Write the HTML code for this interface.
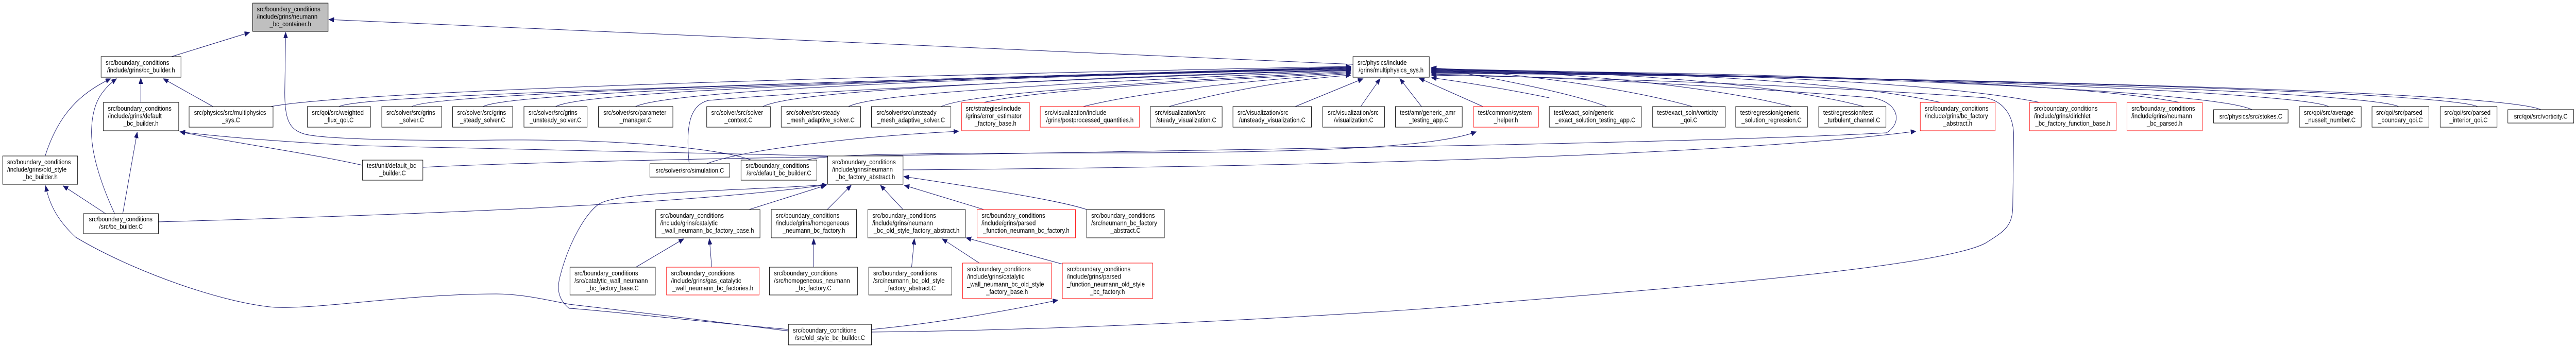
<!DOCTYPE html>
<html><head><meta charset="utf-8"><style>
html,body{margin:0;padding:0;background:#fff;width:100vw;height:100vh;overflow:hidden}
svg{display:block;width:100vw;height:100vh}
text{font-family:"Liberation Sans",Arial,sans-serif;font-size:13px;fill:#000}
.b{fill:#fff;stroke:#000;stroke-width:1}
.r{fill:#fff;stroke:#ff0000;stroke-width:1}
.g{fill:#bfbfbf;stroke:#000;stroke-width:1}
.e{fill:none;stroke:#191970;stroke-width:1}
</style></head><body>
<svg viewBox="0 0 5708 676" preserveAspectRatio="none" xmlns="http://www.w3.org/2000/svg">
<defs><marker id="a" markerUnits="userSpaceOnUse" markerWidth="12" markerHeight="10" refX="11" refY="4.5" orient="auto"><path d="M0,0 L11,4.5 L0,9 z" fill="#191970" stroke="#191970"/></marker></defs>
<g marker-end="url(#a)">
<path class="e" d="M380,110 L553,63"/>
<path class="e" d="M2998,125 L729,38"/>
<path class="e" d="M1665,311 C1600,290 1400,270 1100,272 C900,274 700,270 670,259 C640,250 631,230 631,180 L633,63"/>
<path class="e" d="M312,199 L312,152"/>
<path class="e" d="M472,207 L362,153"/>
<path class="e" d="M100,303 C130,220 180,180 245,153"/>
<path class="e" d="M254,415 C230,370 200,300 203,250 C205,200 225,175 258,153"/>
<path class="e" d="M272,415 L304,257"/>
<path class="e" d="M803,321 C700,300 500,275 399,256"/>
<path class="e" d="M1836,303 C1500,295 1000,290 800,283 C600,275 450,262 399,256"/>
<path class="e" d="M234,415 L140,361"/>
<path class="e" d="M1747,643 C1500,615 1300,595 1261,591 C1200,580 1150,571 1100,571 C900,571 720,600 610,597 C500,590 300,530 168,461 C130,430 110,400 101,361"/>
<path class="e" d="M600,207 C700,190 1200,160 2993,129"/>
<path class="e" d="M751,207 C790,190 1200,175 2993,130"/>
<path class="e" d="M912,207 C950,190 1300,170 2993,131"/>
<path class="e" d="M1070,207 C1110,190 1400,168 2993,132"/>
<path class="e" d="M1231,207 C1270,190 1500,165 2993,133"/>
<path class="e" d="M1408,207 C1450,190 1700,160 2993,134"/>
<path class="e" d="M1690,207 C1730,190 1900,165 2993,135"/>
<path class="e" d="M1880,207 C1920,190 2100,170 2993,137"/>
<path class="e" d="M2085,207 C2130,190 2300,170 2993,139"/>
<path class="e" d="M2180,199 C2300,175 2600,160 2993,141"/>
<path class="e" d="M2400,207 C2500,185 2700,160 2993,143"/>
<path class="e" d="M2590,207 C2700,180 2850,155 2993,146"/>
<path class="e" d="M1527,318 C1520,250 1525,205 1570,195 C1900,170 2500,150 2993,136"/>
<path class="e" d="M2870,207 L3020,153"/>
<path class="e" d="M3015,207 L3058,153"/>
<path class="e" d="M3150,207 L3102,153"/>
<path class="e" d="M3286,207 L3145,152"/>
<path class="e" d="M3433,190 C3350,175 3250,160 3172,151"/>
<path class="e" d="M3560,207 C3480,180 3300,150 3172,131"/>
<path class="e" d="M3750,207 C3620,175 3400,145 3172,132"/>
<path class="e" d="M3970,207 C3800,170 3500,140 3172,133"/>
<path class="e" d="M4130,207 C3950,165 3600,138 3172,134"/>
<path class="e" d="M4300,199 C4100,160 3700,138 3172,135"/>
<path class="e" d="M4520,199 C4300,160 3800,140 3172,136"/>
<path class="e" d="M4830,199 C4600,160 3900,140 3172,137"/>
<path class="e" d="M4990,213 C4900,175 4000,142 3172,138"/>
<path class="e" d="M5160,207 C5100,180 4200,145 3172,139"/>
<path class="e" d="M5315,207 C5250,180 4300,147 3172,140"/>
<path class="e" d="M5490,207 C5420,180 4400,150 3172,141"/>
<path class="e" d="M5630,213 C5550,180 4500,152 3172,142"/>
<path class="e" d="M937,325 C1500,300 3500,290 4180,258 C4215,240 4210,200 4150,190 C3800,165 3400,148 3172,144"/>
<path class="e" d="M1931,645 C2500,640 3200,600 3300,589 C3700,560 4300,520 4400,472 C4440,450 4460,440 4460,400 L4462,260 C4460,215 4430,195 4400,190 C4000,165 3500,150 3172,146"/>
<path class="e" d="M1566,318 C1650,290 1900,265 2124,255"/>
<path class="e" d="M1787,311 C1830,300 2000,297 2500,297 C3000,296 3200,280 3271,256"/>
<path class="e" d="M2001,330 C2800,325 3800,305 4245,255"/>
<path class="e" d="M351,431 C800,420 1500,400 1832,359"/>
<path class="e" d="M1747,640 C1500,620 1300,600 1261,599 C1235,580 1235,560 1240,540 C1260,470 1300,410 1330,395 C1380,372 1600,372 1832,359"/>
<path class="e" d="M1660,407 L1830,360"/>
<path class="e" d="M1833,407 L1886,360"/>
<path class="e" d="M2001,407 L1951,360"/>
<path class="e" d="M2180,407 L2004,360"/>
<path class="e" d="M2408,407 C2350,390 2200,369 2003,343"/>
<path class="e" d="M1409,519 L1515,464"/>
<path class="e" d="M1577,519 L1572,464"/>
<path class="e" d="M1803,519 L1803,464"/>
<path class="e" d="M2020,519 L2026,464"/>
<path class="e" d="M2170,511 L2088,464"/>
<path class="e" d="M2354,513 L2141,462"/>
<path class="e" d="M1931,640 C2050,630 2200,610 2344,583"/>
</g>

<rect class="g" x="560" y="6" width="167" height="55"/><text x="569" y="22">src/boundary_conditions</text><text x="569" y="36.5">/include/grins/neumann</text><text x="643.5" y="51" text-anchor="middle">_bc_container.h</text>
<rect class="b" x="224" y="110" width="177" height="40"/><text x="234" y="126">src/boundary_conditions</text><text x="312.5" y="140.5" text-anchor="middle">/include/grins/bc_builder.h</text>
<rect class="b" x="229" y="199" width="167" height="55"/><text x="239" y="215">src/boundary_conditions</text><text x="239" y="229.5">/include/grins/default</text><text x="312.5" y="244" text-anchor="middle">_bc_builder.h</text>
<rect class="b" x="419" y="207" width="186" height="40"/><text x="430" y="223">src/physics/src/multiphysics</text><text x="512" y="237.5" text-anchor="middle">_sys.C</text>
<rect class="b" x="681" y="207" width="140" height="40"/><text x="691" y="223">src/qoi/src/weighted</text><text x="751" y="237.5" text-anchor="middle">_flux_qoi.C</text>
<rect class="b" x="846" y="207" width="133" height="40"/><text x="856" y="223">src/solver/src/grins</text><text x="912.5" y="237.5" text-anchor="middle">_solver.C</text>
<rect class="b" x="1003" y="207" width="133" height="40"/><text x="1013" y="223">src/solver/src/grins</text><text x="1069.5" y="237.5" text-anchor="middle">_steady_solver.C</text>
<rect class="b" x="1161" y="207" width="140" height="40"/><text x="1171" y="223">src/solver/src/grins</text><text x="1231" y="237.5" text-anchor="middle">_unsteady_solver.C</text>
<rect class="b" x="1326" y="207" width="165" height="40"/><text x="1337" y="223">src/solver/src/parameter</text><text x="1408.5" y="237.5" text-anchor="middle">_manager.C</text>
<rect class="b" x="1566" y="207" width="141" height="40"/><text x="1576" y="223">src/solver/src/solver</text><text x="1636.5" y="237.5" text-anchor="middle">_context.C</text>
<rect class="b" x="1731" y="207" width="176" height="40"/><text x="1742" y="223">src/solver/src/steady</text><text x="1819" y="237.5" text-anchor="middle">_mesh_adaptive_solver.C</text>
<rect class="b" x="1931" y="207" width="176" height="40"/><text x="1942" y="223">src/solver/src/unsteady</text><text x="2019" y="237.5" text-anchor="middle">_mesh_adaptive_solver.C</text>
<rect class="r" x="2131" y="199" width="150" height="55"/><text x="2140" y="215">src/strategies/include</text><text x="2140" y="229.5">/grins/error_estimator</text><text x="2206" y="244" text-anchor="middle">_factory_base.h</text>
<rect class="r" x="2305" y="207" width="220" height="40"/><text x="2315" y="223">src/visualization/include</text><text x="2415" y="237.5" text-anchor="middle">/grins/postprocessed_quantities.h</text>
<rect class="b" x="2549" y="207" width="159" height="40"/><text x="2559" y="223">src/visualization/src</text><text x="2628.5" y="237.5" text-anchor="middle">/steady_visualization.C</text>
<rect class="b" x="2732" y="207" width="174" height="40"/><text x="2742" y="223">src/visualization/src</text><text x="2819" y="237.5" text-anchor="middle">/unsteady_visualization.C</text>
<rect class="b" x="2931" y="207" width="137" height="40"/><text x="2942" y="223">src/visualization/src</text><text x="2999.5" y="237.5" text-anchor="middle">/visualization.C</text>
<rect class="b" x="3092" y="207" width="148" height="40"/><text x="3102" y="223">test/amr/generic_amr</text><text x="3166" y="237.5" text-anchor="middle">_testing_app.C</text>
<rect class="r" x="3265" y="207" width="144" height="40"/><text x="3275" y="223">test/common/system</text><text x="3337" y="237.5" text-anchor="middle">_helper.h</text>
<rect class="b" x="3433" y="207" width="204" height="40"/><text x="3443" y="223">test/exact_soln/generic</text><text x="3535" y="237.5" text-anchor="middle">_exact_solution_testing_app.C</text>
<rect class="b" x="3662" y="207" width="161" height="40"/><text x="3672" y="223">test/exact_soln/vorticity</text><text x="3742.5" y="237.5" text-anchor="middle">_qoi.C</text>
<rect class="b" x="3846" y="207" width="159" height="40"/><text x="3856" y="223">test/regression/generic</text><text x="3925.5" y="237.5" text-anchor="middle">_solution_regression.C</text>
<rect class="b" x="4030" y="207" width="149" height="40"/><text x="4040" y="223">test/regression/test</text><text x="4104.5" y="237.5" text-anchor="middle">_turbulent_channel.C</text>
<rect class="r" x="4255" y="199" width="166" height="55"/><text x="4265" y="215">src/boundary_conditions</text><text x="4265" y="229.5">/include/grins/bc_factory</text><text x="4338" y="244" text-anchor="middle">_abstract.h</text>
<rect class="r" x="4497" y="199" width="192" height="55"/><text x="4507" y="215">src/boundary_conditions</text><text x="4507" y="229.5">/include/grins/dirichlet</text><text x="4593" y="244" text-anchor="middle">_bc_factory_function_base.h</text>
<rect class="r" x="4713" y="199" width="167" height="55"/><text x="4723" y="215">src/boundary_conditions</text><text x="4723" y="229.5">/include/grins/neumann</text><text x="4796.5" y="244" text-anchor="middle">_bc_parsed.h</text>
<rect class="b" x="4905" y="213" width="165" height="26"/><text x="4987.5" y="230.5" text-anchor="middle">src/physics/src/stokes.C</text>
<rect class="b" x="5095" y="207" width="137" height="40"/><text x="5105" y="223">src/qoi/src/average</text><text x="5163.5" y="237.5" text-anchor="middle">_nusselt_number.C</text>
<rect class="b" x="5256" y="207" width="126" height="40"/><text x="5265" y="223">src/qoi/src/parsed</text><text x="5319" y="237.5" text-anchor="middle">_boundary_qoi.C</text>
<rect class="b" x="5407" y="207" width="126" height="40"/><text x="5416" y="223">src/qoi/src/parsed</text><text x="5470" y="237.5" text-anchor="middle">_interior_qoi.C</text>
<rect class="b" x="5557" y="213" width="146" height="26"/><text x="5630" y="230.5" text-anchor="middle">src/qoi/src/vorticity.C</text>
<rect class="b" x="2998" y="110" width="169" height="40"/><text x="3008" y="126">src/physics/include</text><text x="3082.5" y="140.5" text-anchor="middle">/grins/multiphysics_sys.h</text>
<rect class="b" x="6" y="303" width="166" height="55"/><text x="16" y="319">src/boundary_conditions</text><text x="16" y="333.5">/include/grins/old_style</text><text x="89" y="348" text-anchor="middle">_bc_builder.h</text>
<rect class="b" x="803" y="311" width="134" height="39"/><text x="813" y="326">test/unit/default_bc</text><text x="870" y="340.5" text-anchor="middle">_builder.C</text>
<rect class="b" x="1440" y="318" width="177" height="26"/><text x="1528.5" y="335.5" text-anchor="middle">src/solver/src/simulation.C</text>
<rect class="b" x="1642" y="311" width="168" height="39"/><text x="1652" y="326">src/boundary_conditions</text><text x="1726" y="340.5" text-anchor="middle">/src/default_bc_builder.C</text>
<rect class="b" x="1834" y="303" width="167" height="55"/><text x="1844" y="319">src/boundary_conditions</text><text x="1844" y="333.5">/include/grins/neumann</text><text x="1917.5" y="348" text-anchor="middle">_bc_factory_abstract.h</text>
<rect class="b" x="185" y="415" width="166" height="39"/><text x="197" y="430">src/boundary_conditions</text><text x="268" y="444.5" text-anchor="middle">/src/bc_builder.C</text>
<rect class="b" x="1453" y="407" width="231" height="55"/><text x="1463" y="423">src/boundary_conditions</text><text x="1463" y="437.5">/include/grins/catalytic</text><text x="1568.5" y="452" text-anchor="middle">_wall_neumann_bc_factory_base.h</text>
<rect class="b" x="1709" y="407" width="189" height="55"/><text x="1719" y="423">src/boundary_conditions</text><text x="1719" y="437.5">/include/grins/homogeneous</text><text x="1803.5" y="452" text-anchor="middle">_neumann_bc_factory.h</text>
<rect class="b" x="1923" y="407" width="216" height="55"/><text x="1933" y="423">src/boundary_conditions</text><text x="1933" y="437.5">/include/grins/neumann</text><text x="2031" y="452" text-anchor="middle">_bc_old_style_factory_abstract.h</text>
<rect class="r" x="2165" y="407" width="218" height="55"/><text x="2175" y="423">src/boundary_conditions</text><text x="2175" y="437.5">/include/grins/parsed</text><text x="2274" y="452" text-anchor="middle">_function_neumann_bc_factory.h</text>
<rect class="b" x="2408" y="407" width="172" height="55"/><text x="2418" y="423">src/boundary_conditions</text><text x="2418" y="437.5">/src/neumann_bc_factory</text><text x="2494" y="452" text-anchor="middle">_abstract.C</text>
<rect class="b" x="1263" y="519" width="189" height="54"/><text x="1273" y="535">src/boundary_conditions</text><text x="1273" y="549.5">/src/catalytic_wall_neumann</text><text x="1357.5" y="564" text-anchor="middle">_bc_factory_base.C</text>
<rect class="r" x="1477" y="519" width="205" height="54"/><text x="1487" y="535">src/boundary_conditions</text><text x="1487" y="549.5">/include/grins/gas_catalytic</text><text x="1579.5" y="564" text-anchor="middle">_wall_neumann_bc_factories.h</text>
<rect class="b" x="1705" y="519" width="195" height="54"/><text x="1715" y="535">src/boundary_conditions</text><text x="1715" y="549.5">/src/homogeneous_neumann</text><text x="1802.5" y="564" text-anchor="middle">_bc_factory.C</text>
<rect class="b" x="1925" y="519" width="184" height="54"/><text x="1935" y="535">src/boundary_conditions</text><text x="1935" y="549.5">/src/neumann_bc_old_style</text><text x="2017" y="564" text-anchor="middle">_factory_abstract.C</text>
<rect class="r" x="2133" y="511" width="197" height="69"/><text x="2143" y="527">src/boundary_conditions</text><text x="2143" y="541.7">/include/grins/catalytic</text><text x="2143" y="556.4">_wall_neumann_bc_old_style</text><text x="2231.5" y="571" text-anchor="middle">_factory_base.h</text>
<rect class="r" x="2354" y="511" width="200" height="69"/><text x="2364" y="527">src/boundary_conditions</text><text x="2364" y="541.7">/include/grins/parsed</text><text x="2364" y="556.4">_function_neumann_old_style</text><text x="2454" y="571" text-anchor="middle">_bc_factory.h</text>
<rect class="b" x="1747" y="630" width="184" height="40"/><text x="1757" y="646">src/boundary_conditions</text><text x="1839" y="660.5" text-anchor="middle">/src/old_style_bc_builder.C</text>
</svg>
</body></html>
